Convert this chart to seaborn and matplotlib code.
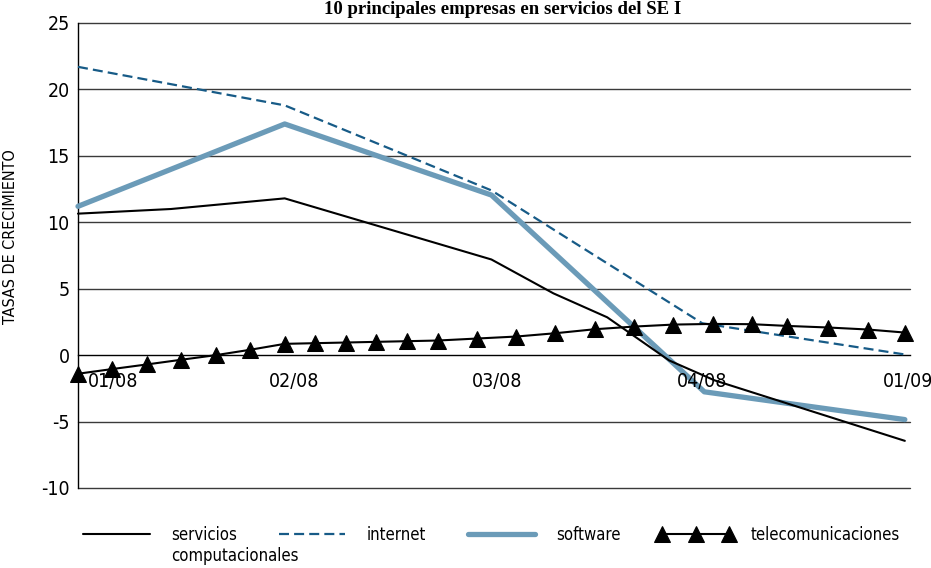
import numpy as np
import pandas as pd
import matplotlib
matplotlib.use("Agg")
import matplotlib.pyplot as plt
import seaborn as sns

# quarter positions: 01/08 = 0 ... 01/09 = 4
tick_pos = [0, 1, 2, 3, 4]
tick_labels = ["01/08", "02/08", "03/08", "04/08", "01/09"]

serv_x = [0, 0.45, 1.0, 2.0, 2.3, 2.56, 2.86, 3.08, 4.0]
serv_y = [10.65, 11.0, 11.8, 7.2, 4.65, 2.85, -0.4, -1.9, -6.45]

inet_x = [0, 1.0, 2.0, 3.02, 4.0]
inet_y = [21.7, 18.8, 12.4, 2.4, 0.05]

soft_x = [0, 1.0, 2.0, 3.03, 4.0]
soft_y = [11.2, 17.4, 12.05, -2.76, -4.85]

tele_x = [0, 0.164, 0.333, 0.498, 0.667, 0.831, 1.0, 1.145, 1.295, 1.44, 1.59, 1.74,
          1.93, 2.12, 2.31, 2.50, 2.69, 2.88, 3.07, 3.26, 3.43, 3.63, 3.82, 4.0]
tele_y = [-1.4, -1.05, -0.7, -0.35, 0.0, 0.4, 0.85, 0.9, 0.95, 1.0, 1.05, 1.1,
          1.25, 1.4, 1.65, 1.95, 2.15, 2.3, 2.35, 2.33, 2.2, 2.08, 1.93, 1.7]

sns.set_style("white")
plt.rcParams["font.family"] = ["DejaVu Sans"]
plt.rcParams["font.stretch"] = "condensed"
plt.rcParams["text.color"] = "black"
plt.rcParams["ytick.color"] = "black"
plt.rcParams["xtick.color"] = "black"
plt.rcParams["axes.labelcolor"] = "black"

fig = plt.figure(figsize=(9.31, 5.68), dpi=100)
ax = fig.add_axes([78 / 931, 1 - 488 / 568, 832 / 931, 465 / 568])

soft_color = "#6b9bb8"
inet_color = "#175b87"

sns.lineplot(x=soft_x, y=soft_y, ax=ax, color=soft_color, lw=3.8, label="software",
             clip_on=False, zorder=3)
sns.lineplot(x=serv_x, y=serv_y, ax=ax, color="black", lw=1.5, label="servicios",
             clip_on=False, zorder=4)
sns.lineplot(x=inet_x, y=inet_y, ax=ax, color=inet_color, lw=1.6, label="internet",
             clip_on=False, zorder=4)
ax.lines[-1].set_linestyle((0, (4.5, 2.3)))
sns.lineplot(x=tele_x, y=tele_y, ax=ax, color="black", lw=1.5, marker="^", markersize=11,
             markeredgecolor="black", label="telecomunicaciones", clip_on=False, zorder=5)

ax.set_xlim(0, 4.025)
ax.set_ylim(-10, 25)
ax.set_yticks([-10, -5, 0, 5, 10, 15, 20, 25])
ax.set_yticklabels(["-10", "-5", "0", "5", "10", "15", "20", "25"])
ax.tick_params(axis="y", direction="out", length=4, width=1, labelsize=14, pad=2)
ax.set_xticks(tick_pos)
ax.tick_params(axis="x", direction="out", length=6, width=1, labelbottom=False)

# horizontal grid
for v in [25, 20, 15, 10, 5, -5, -10]:
    ax.axhline(v, color="#3a3a3a", lw=1.0, zorder=1, clip_on=False)

for s in ["top", "right"]:
    ax.spines[s].set_visible(False)
ax.spines["bottom"].set_position(("data", 0))
ax.spines["bottom"].set_color("black")
ax.spines["bottom"].set_linewidth(1.0)
ax.spines["left"].set_color("black")
ax.spines["left"].set_linewidth(1.0)

# x labels, shifted to the right of their ticks
offsets = [25, 7, 4, 3, 2]
for p, lab, dx in zip(tick_pos, tick_labels, offsets):
    ax.annotate(lab, (p, 0), xytext=(dx, -19), textcoords="offset points",
                ha="center", va="center", fontsize=14, annotation_clip=False)

ax.set_ylabel("TASAS DE CRECIMIENTO", fontsize=11.5)
ax.yaxis.set_label_coords(-0.072, 0.54)

fig.text(0.54, 1 - 14 / 568, "10 principales empresas en servicios del SE I", ha="center",
         va="baseline", fontsize=13.5, weight="bold", family="Liberation Serif")

ax.get_legend().remove()
h, l = ax.get_legend_handles_labels()
order = [1, 2, 0, 3]
leg = fig.legend([h[i] for i in order], [l[i] for i in order], loc="center",
                 bbox_to_anchor=(78 / 931, 1 - 535 / 568, 822 / 931, 0), mode="expand",
                 ncol=4, frameon=False, fontsize=12, handlelength=4.6, handletextpad=1.0,
                 numpoints=3, borderpad=0, borderaxespad=0)

fig.canvas.draw()
bb = leg.get_texts()[0].get_window_extent().transformed(fig.transFigure.inverted())
fig.text(bb.x0, bb.y0 - 0.006, "computacionales", ha="left", va="top", fontsize=12)

fig.savefig("out.png", dpi=100)
